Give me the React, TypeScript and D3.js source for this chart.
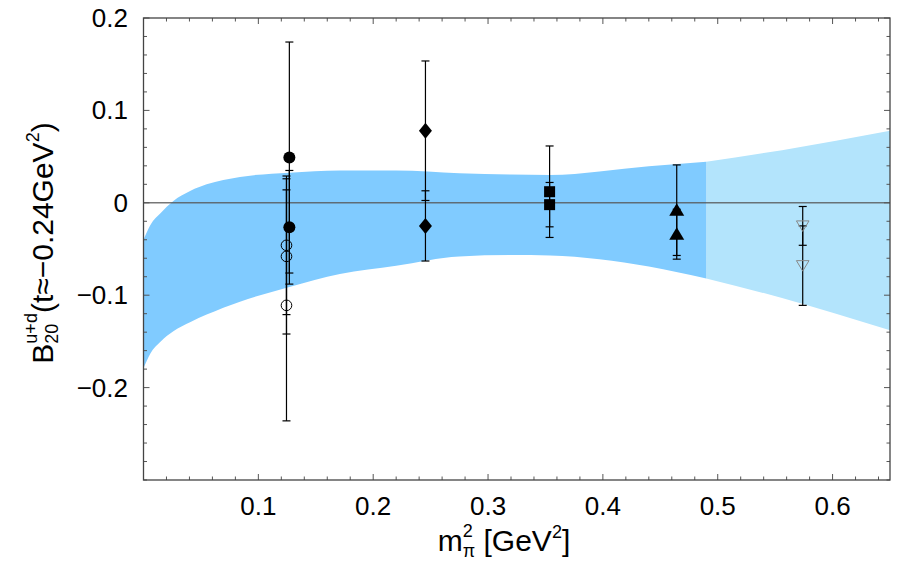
import React, { useEffect, useRef } from 'react';
import * as d3 from 'd3';

// band of the chiral fit (dark part up to 0.49, light part beyond)
const bandX = [0, 0.006, 0.015, 0.026, 0.041, 0.055, 0.084, 0.127, 0.171, 0.22, 0.275, 0.32, 0.354, 0.397, 0.44, 0.49];
const bandUpper = [-0.040, -0.024, -0.011, 0.002, 0.013, 0.020, 0.028, 0.0326, 0.035, 0.035, 0.032, 0.0305, 0.030, 0.034, 0.0395, 0.0445];
const bandLower = [-0.179, -0.163, -0.150, -0.139, -0.129, -0.121, -0.107, -0.091, -0.077, -0.068, -0.058, -0.0565, -0.057, -0.061, -0.069, -0.082];
const lightX = [0.49, 0.556, 0.65];
const lightUpper = [0.0445, 0.057, 0.078];
const lightLower = [-0.082, -0.103, -0.138];

// lattice points: x, values, errors
const filledCircleX = 0.127;
const filledCircleY = [0.049, -0.0265];
const filledCircleErr = [0.125, 0.0615];
const openCircleX = 0.1245;
const openCircleY = [-0.046, -0.058, -0.111];
const openCircleErr = [0.075, 0.084, 0.125];
const diamondX = 0.2455;
const diamondY = [0.078, -0.025];
const diamondErr = [0.0755, 0.038];
const squareX = 0.3536;
const squareY = [0.012, -0.002];
const squareErr = [0.0495, 0.024];
const triangleX = 0.4643;
const triangleY = [-0.008, -0.034];
const triangleErr = [0.049, 0.027];
const downTriX = 0.574;
const downTriY = [-0.025, -0.068];
const downTriErr = [0.021, 0.043];

const xTicks = [0.1, 0.2, 0.3, 0.4, 0.5, 0.6];
const xTickLabels = ['0.1', '0.2', '0.3', '0.4', '0.5', '0.6'];
const yTicks = [0.2, 0.1, 0, -0.1, -0.2];
const yTickLabels = ['0.2', '0.1', '0', '\u22120.1', '\u22120.2'];

const FONT = '"Liberation Sans", Arial, Helvetica, sans-serif';

type Run = { t: string; size: number; dy: number; stack?: boolean };

// lays text runs left to right; a "stack" run shares its x with the next one
function drawRuns(g: any, runs: Run[]) {
  let x = 0;
  let stackW = 0;
  runs.forEach((r) => {
    const node = g.append('text')
      .attr('x', x)
      .attr('y', r.dy)
      .attr('font-size', r.size)
      .attr('font-family', FONT)
      .attr('fill', '#000')
      .style('white-space', 'pre')
      .text(r.t)
      .node() as SVGTextElement;
    const w = node.getComputedTextLength();
    if (r.stack) {
      stackW = w;
    } else {
      x += Math.max(w, stackW);
      stackW = 0;
    }
  });
  return x;
}

export default function App() {
  const ref = useRef<SVGSVGElement>(null);

  useEffect(() => {
    const svg = d3.select(ref.current);
    svg.selectAll('*').remove();

    const left = 143.5, right = 890, top = 18, bottom = 480;

    const x = d3.scaleLinear().domain([0, 0.65]).range([left, right]);
    const y = d3.scaleLinear().domain([-0.3, 0.2]).range([bottom, top]);

    const area = d3.area<number>()
      .x((d) => x(d))
      .curve(d3.curveMonotoneX);

    svg.append('path')
      .attr('fill', '#b3e4fc')
      .attr('d', area.y0((d, i) => y(lightLower[i])).y1((d, i) => y(lightUpper[i]))(lightX) as string);

    svg.append('path')
      .attr('fill', '#80cbff')
      .attr('d', area.y0((d, i) => y(bandLower[i])).y1((d, i) => y(bandUpper[i]))(bandX) as string);

    // zero line
    svg.append('line')
      .attr('x1', x(0)).attr('x2', x(0.65))
      .attr('y1', y(0)).attr('y2', y(0))
      .attr('stroke', '#555')
      .attr('stroke-opacity', 0.8)
      .attr('stroke-width', 1.6);

    // error bars
    const errBars = (px: number, ys: number[], errs: number[]) => {
      ys.forEach((v, i) => {
        const g = svg.append('g').attr('stroke', '#000').attr('stroke-width', 1.2);
        g.append('line').attr('x1', x(px)).attr('x2', x(px)).attr('y1', y(v + errs[i])).attr('y2', y(v - errs[i]));
        [v + errs[i], v - errs[i]].forEach((e) => {
          g.append('line').attr('x1', x(px) - 4).attr('x2', x(px) + 4).attr('y1', y(e)).attr('y2', y(e));
        });
      });
    };
    errBars(openCircleX, openCircleY, openCircleErr);
    errBars(filledCircleX, filledCircleY, filledCircleErr);
    errBars(diamondX, diamondY, diamondErr);
    errBars(squareX, squareY, squareErr);
    errBars(triangleX, triangleY, triangleErr);
    errBars(downTriX, downTriY, downTriErr);

    // markers
    openCircleY.forEach((v) => {
      svg.append('circle').attr('cx', x(openCircleX)).attr('cy', y(v)).attr('r', 5.3)
        .attr('fill', 'none').attr('stroke', '#000').attr('stroke-width', 1);
    });
    filledCircleY.forEach((v) => {
      svg.append('circle').attr('cx', x(filledCircleX)).attr('cy', y(v)).attr('r', 6).attr('fill', '#000');
    });
    diamondY.forEach((v) => {
      const cx = x(diamondX), cy = y(v);
      svg.append('path').attr('fill', '#000')
        .attr('d', `M${cx},${cy - 8}L${cx + 6.5},${cy}L${cx},${cy + 8}L${cx - 6.5},${cy}Z`);
    });
    squareY.forEach((v) => {
      svg.append('rect').attr('x', x(squareX) - 5.5).attr('y', y(v) - 5.5)
        .attr('width', 11).attr('height', 11).attr('fill', '#000');
    });
    triangleY.forEach((v) => {
      const cx = x(triangleX), cy = y(v);
      svg.append('path').attr('fill', '#000')
        .attr('d', `M${cx},${cy - 7}L${cx + 7.5},${cy + 5.5}L${cx - 7.5},${cy + 5.5}Z`);
    });
    downTriY.forEach((v) => {
      const cx = x(downTriX), cy = y(v);
      svg.append('path').attr('fill', 'none').attr('stroke', '#888').attr('stroke-width', 1)
        .attr('d', `M${cx - 6.3},${cy - 5}L${cx + 6.3},${cy - 5}L${cx},${cy + 5.5}Z`);
    });

    // frame and ticks
    const tg = svg.append('g').attr('stroke', '#555').attr('stroke-width', 1);
    d3.range(0, 0.651, 0.02).forEach((t) => {
      const major = xTicks.some((m) => Math.abs(m - t) < 1e-6);
      const len = major ? 6 : 3.5;
      tg.append('line').attr('x1', x(t)).attr('x2', x(t)).attr('y1', bottom).attr('y2', bottom - len);
      tg.append('line').attr('x1', x(t)).attr('x2', x(t)).attr('y1', top).attr('y2', top + len);
    });
    d3.range(-0.3, 0.201, 0.02).forEach((t) => {
      const major = yTicks.some((m) => Math.abs(m - t) < 1e-6);
      const len = major ? 6 : 3.5;
      tg.append('line').attr('x1', left).attr('x2', left + len).attr('y1', y(t)).attr('y2', y(t));
      tg.append('line').attr('x1', right).attr('x2', right - len).attr('y1', y(t)).attr('y2', y(t));
    });
    svg.append('rect')
      .attr('x', left).attr('y', top)
      .attr('width', right - left).attr('height', bottom - top)
      .attr('fill', 'none').attr('stroke', '#444').attr('stroke-width', 1.3);

    // tick labels
    xTicks.forEach((t, i) => {
      svg.append('text').attr('x', x(t)).attr('y', 515)
        .attr('text-anchor', 'middle').attr('font-size', 26).attr('font-family', FONT)
        .text(xTickLabels[i]);
    });
    yTicks.forEach((t, i) => {
      svg.append('text').attr('x', 128).attr('y', y(t) + 9)
        .attr('text-anchor', 'end').attr('font-size', 26).attr('font-family', FONT)
        .text(yTickLabels[i]);
    });

    // x title
    const xt = svg.append('g');
    const xw = drawRuns(xt, [
      { t: 'm', size: 30, dy: 0 },
      { t: '2', size: 18, dy: -14, stack: true },
      { t: '\u03c0', size: 18, dy: 6 },
      { t: ' [GeV', size: 30, dy: 0 },
      { t: '2', size: 18, dy: -13 },
      { t: ']', size: 30, dy: 0 },
    ]);
    xt.attr('transform', `translate(${504 - xw / 2},551)`);

    // y title
    const yt = svg.append('g');
    const yw = drawRuns(yt, [
      { t: 'B', size: 30, dy: 0 },
      { t: 'u+d', size: 18, dy: -16, stack: true },
      { t: '20', size: 18, dy: 5 },
      { t: '(t\u2248\u22120.24GeV', size: 30, dy: 0 },
      { t: '2', size: 18, dy: -14 },
      { t: ')', size: 30, dy: 0 },
    ]);
    yt.attr('transform', `translate(53,${243 + yw / 2}) rotate(-90)`);
  }, []);

  return (
    <svg
      ref={ref}
      width={912}
      height={564}
      style={{ position: 'absolute', left: 0, top: 0, background: '#fff' }}
    />
  );
}
